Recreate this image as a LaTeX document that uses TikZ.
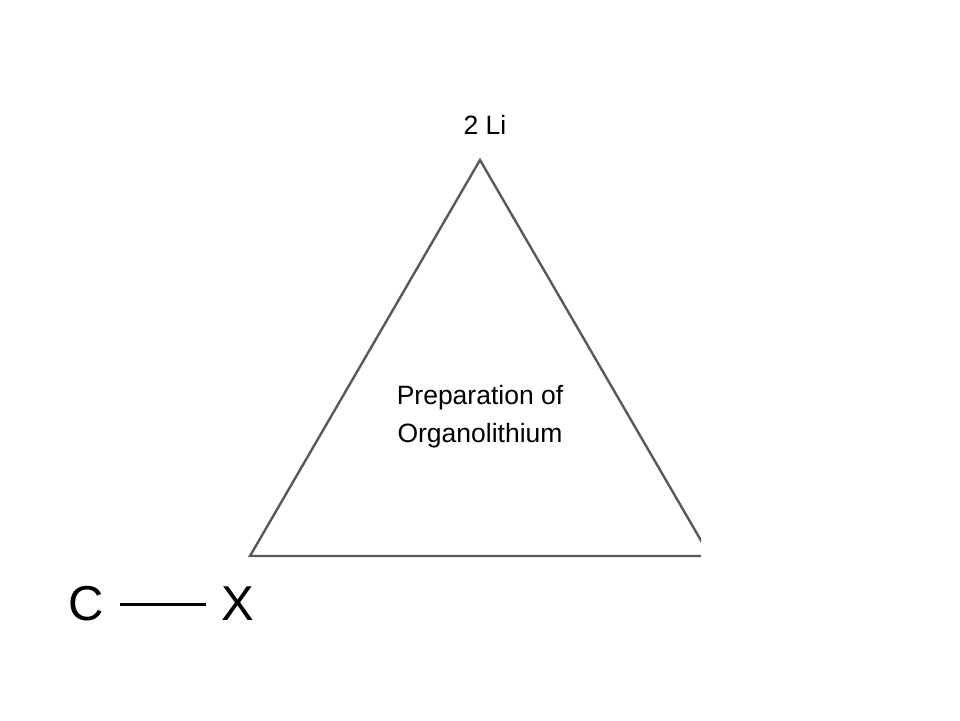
\documentclass[tikz,border=0pt]{standalone}
\usepackage{fontspec}
\setmainfont{Liberation Sans}
\usetikzlibrary{calc}

\begin{document}
\begin{tikzpicture}[x=1pt, y=-1pt,
    tri/.style={draw=black!65, line width=2.4pt, line join=miter},
    lbl/.style={font=\fontsize{26.5}{38}\selectfont, align=center, inner sep=0pt},
    atom/.style={font=\fontsize{49}{58}\selectfont, inner sep=0pt}]
  % page frame: 960 x 720, y runs downwards
  \useasboundingbox (0,0) rectangle (960,720);
  % triangle, right corner cut off at x = 700
  \begin{scope}
    \clip (0,0) rectangle (701,720);
    \draw[tri] (480,160) -- (250,556) -- (710,556) -- cycle;
  \end{scope}
  \node[lbl] (li) at (485,125) {2 Li};
  \node[lbl] (prep) at (480,417) {Preparation of\\Organolithium};
  % C--X bond
  \node[atom] (c) at (86,604) {C};
  \node[atom] (x) at (238,604) {X};
  \draw[line width=3pt] ($(c.east)+(16,0)$) -- ($(x.west)+(-15,0)$);
\end{tikzpicture}
\end{document}
